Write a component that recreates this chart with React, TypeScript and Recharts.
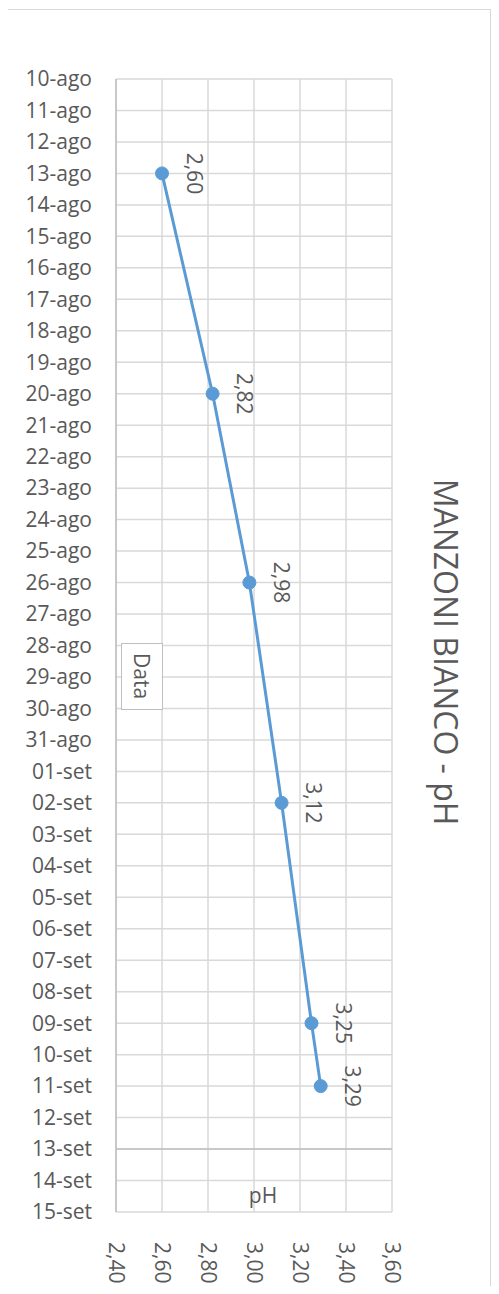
import { LineChart, Line, XAxis, YAxis, CartesianGrid, ReferenceLine } from "recharts";

// day labels on the category axis, from 10 Aug to 15 Sep
const dayLabels = [
  "10-ago", "11-ago", "12-ago", "13-ago", "14-ago", "15-ago", "16-ago", "17-ago",
  "18-ago", "19-ago", "20-ago", "21-ago", "22-ago", "23-ago", "24-ago", "25-ago",
  "26-ago", "27-ago", "28-ago", "29-ago", "30-ago", "31-ago",
  "01-set", "02-set", "03-set", "04-set", "05-set", "06-set", "07-set", "08-set",
  "09-set", "10-set", "11-set", "12-set", "13-set", "14-set", "15-set",
];

// sampling dates and measured pH
const sampleDays = ["13-ago", "20-ago", "26-ago", "02-set", "09-set", "11-set"];
const phValues = [2.6, 2.82, 2.98, 3.12, 3.25, 3.29];

const phTicks = [2.4, 2.6, 2.8, 3.0, 3.2, 3.4, 3.6];

const data = sampleDays.map((d, i) => ({ day: dayLabels.indexOf(d), ph: phValues[i] }));
const dayTicks = dayLabels.map((_, i) => i);

const W = 499;
const H = 1294;
const TEXT = "#595959";
const FONT = "'Open Sans', sans-serif";
const fmt = (v: number) => v.toFixed(2).replace(".", ",");

function DayTick(props: any) {
  const { x, y, payload } = props;
  return (
    <text x={x - 16} y={y} dy="0.35em" textAnchor="end" fill={TEXT} fontSize={21} fontFamily={FONT}>
      {dayLabels[payload.value]}
    </text>
  );
}

function PhTick(props: any) {
  const { x, y, payload } = props;
  return (
    <text
      transform={`translate(${x},${y + 22}) rotate(90)`}
      dy="0.35em"
      textAnchor="start"
      fill={TEXT}
      fontSize={21}
      fontFamily={FONT}
    >
      {fmt(payload.value)}
    </text>
  );
}

function PointLabel(props: any) {
  const { x, y, index } = props;
  return (
    <text
      transform={`translate(${x + 32},${y}) rotate(90)`}
      dy="0.35em"
      textAnchor="middle"
      fill={TEXT}
      fontSize={21}
      fontFamily={FONT}
    >
      {fmt(phValues[index])}
    </text>
  );
}

export default function App() {
  return (
    <div style={{ position: "relative", width: W, height: H, margin: -8, background: "#fff" }}>
      <div
        style={{
          position: "absolute",
          left: -1,
          top: 9,
          width: 492,
          height: 1290,
          border: "1.5px solid #d9d9d9",
          boxSizing: "border-box",
        }}
      />
      <LineChart
        width={W}
        height={H}
        data={data}
        layout="vertical"
        margin={{ top: 79, right: 107, bottom: 0, left: 0 }}
        style={{ position: "absolute", left: 0, top: 0 }}
      >
        <CartesianGrid stroke="#d9d9d9" strokeWidth={1.5} />
        <XAxis
          type="number"
          dataKey="ph"
          domain={[2.4, 3.6]}
          ticks={phTicks}
          height={82}
          axisLine={false}
          tickLine={false}
          tick={<PhTick />}
          interval={0}
        />
        <YAxis
          type="number"
          dataKey="day"
          domain={[0, dayLabels.length - 1]}
          ticks={dayTicks}
          width={116}
          axisLine={{ stroke: "#bfbfbf", strokeWidth: 1.5 }}
          tickLine={false}
          tick={<DayTick />}
          interval={0}
        />
        <ReferenceLine y={dayLabels.indexOf("13-set")} stroke="#bfbfbf" strokeWidth={1.5} />
        <Line
          dataKey="ph"
          stroke="#5b9bd5"
          strokeWidth={3}
          dot={{ r: 6.5, fill: "#5b9bd5", stroke: "#5b9bd5", strokeWidth: 1 }}
          label={<PointLabel />}
          isAnimationActive={false}
        />
      </LineChart>
      <div
        style={{
          position: "absolute",
          left: 121,
          top: 643,
          width: 42,
          height: 67,
          border: "1.5px solid #bfbfbf",
          boxSizing: "border-box",
          background: "#fff",
          writingMode: "vertical-rl",
          display: "flex",
          alignItems: "center",
          justifyContent: "center",
          color: TEXT,
          fontFamily: FONT,
          fontSize: 21,
        }}
      >
        Data
      </div>
      <div
        style={{
          position: "absolute",
          left: 263,
          top: 1195,
          transform: "translate(-50%, -50%)",
          color: TEXT,
          fontFamily: FONT,
          fontSize: 21,
          lineHeight: 1,
        }}
      >
        pH
      </div>
      <div
        style={{
          position: "absolute",
          left: 446,
          top: 652,
          transform: "translate(-50%, -50%)",
          writingMode: "vertical-rl",
          color: TEXT,
          fontFamily: FONT,
          fontSize: 32,
          lineHeight: 1,
          whiteSpace: "nowrap",
        }}
      >
        MANZONI BIANCO - pH
      </div>
    </div>
  );
}
